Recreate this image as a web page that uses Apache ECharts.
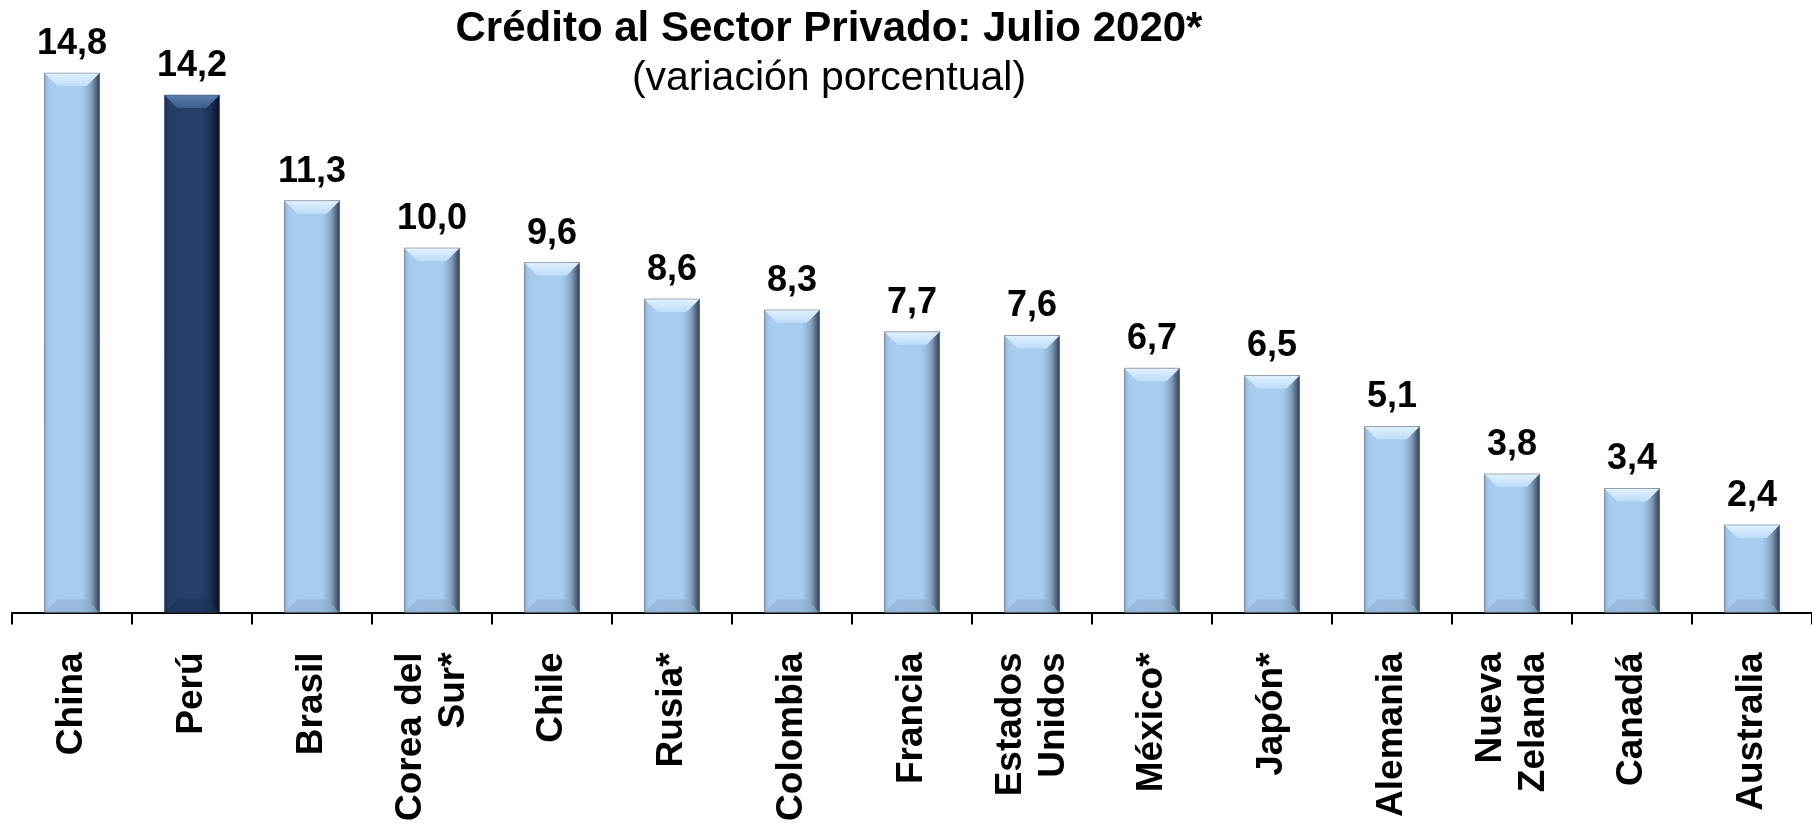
<!DOCTYPE html>
<html>
<head>
<meta charset="utf-8">
<script src="https://cdn.jsdelivr.net/npm/echarts@6/dist/echarts.min.js"></script>
<style>
  html, body { margin: 0; padding: 0; background: #ffffff; }
  #chart { width: 1812px; height: 824px; }
</style>
</head>
<body>
<div id="chart"></div>
<script>
// Private-sector credit growth by country, July 2020 (% change)
const categories = [
  'China', 'Perú', 'Brasil', 'Corea del\nSur*', 'Chile', 'Rusia*', 'Colombia',
  'Francia', 'Estados\nUnidos', 'México*', 'Japón*', 'Alemania',
  'Nueva\nZelanda', 'Canadá', 'Australia'
];
const values = [14.8, 14.2, 11.3, 10.0, 9.6, 8.6, 8.3, 7.7, 7.6, 6.7, 6.5, 5.1, 3.8, 3.4, 2.4];
const highlighted = 'Perú';
const titleText = 'Crédito al Sector Privado: Julio 2020*';
const subtitleText = '(variación porcentual)';

const FONT = '"Liberation Sans", Arial, Helvetica, sans-serif';
const BAR_RATIO = 0.46;

// Colour sets for the bevelled bars
const palettes = {
  light: {
    body: [[0, '#8aa7c5'], [0.06, '#a3c7ea'], [0.12, '#a8ccef'], [0.68, '#a8ccef'], [0.84, '#86a5c6'], [1, '#35404f']],
    topA: '#e2f2ff', topB: '#bddcf7',
    bottom: '#8fadcf'
  },
  dark: {
    body: [[0, '#1a2d4c'], [0.08, '#243f68'], [0.68, '#253f69'], [0.84, '#1b3054'], [1, '#081020']],
    topA: '#5b7db0', topB: '#3d5d8d',
    bottom: '#1c3257'
  }
};

function paletteFor(i) {
  return categories[i] === highlighted ? palettes.dark : palettes.light;
}

function bodyGradient(stops) {
  return new echarts.graphic.LinearGradient(0, 0, 1, 0,
    stops.map(s => ({ offset: s[0], color: s[1] })));
}

const barData = values.map((v, i) => ({
  value: v,
  itemStyle: { color: bodyGradient(paletteFor(i).body) }
}));

// Top and bottom bevel facets drawn over each bar
function renderBevel(params, api) {
  const i = api.value(0);
  const v = api.value(1);
  const top = api.coord([i, v]);
  const base = api.coord([i, 0]);
  const w = api.size([1, 0])[0] * BAR_RATIO;
  const x0 = top[0] - w / 2;
  const x1 = top[0] + w / 2;
  const y0 = top[1];
  const y1 = base[1];
  const b = Math.min(13, (y1 - y0) / 2);
  const pal = paletteFor(i);
  return {
    type: 'group',
    children: [
      {
        type: 'polygon',
        shape: { points: [[x0, y0], [x1, y0], [x1 - b, y0 + b], [x0 + b, y0 + b]] },
        style: {
          fill: new echarts.graphic.LinearGradient(0, 0, 0, 1, [
            { offset: 0, color: pal.topA },
            { offset: 1, color: pal.topB }
          ])
        }
      },
      {
        type: 'polygon',
        shape: { points: [[x0, y1], [x1, y1], [x1 - b, y1 - b], [x0 + b, y1 - b]] },
        style: { fill: pal.bottom, opacity: 0.6 }
      },
      {
        type: 'rect',
        shape: { x: x0, y: y0, width: w, height: y1 - y0 },
        style: { fill: 'none', stroke: 'rgba(40,55,75,0.4)', lineWidth: 1 }
      }
    ]
  };
}

const chart = echarts.init(document.getElementById('chart'), null, { renderer: 'canvas' });

chart.setOption({
  backgroundColor: '#ffffff',
  animation: false,
  title: {
    text: titleText,
    subtext: subtitleText,
    left: 829,
    top: 6,
    padding: 0,
    textAlign: 'center',
    itemGap: 4,
    textStyle: { fontFamily: FONT, fontSize: 42, fontWeight: 'bold', color: '#000000', lineHeight: 46 },
    subtextStyle: { fontFamily: FONT, fontSize: 41, fontWeight: 'normal', color: '#000000', lineHeight: 46 }
  },
  grid: { left: 12, width: 1803, top: 29.4, bottom: 209, containLabel: false },
  xAxis: {
    type: 'category',
    data: categories,
    boundaryGap: true,
    axisLine: { show: true, lineStyle: { color: '#000000', width: 2 } },
    axisTick: { show: true, length: 12, lineStyle: { color: '#000000', width: 2 } },
    axisLabel: {
      interval: 0,
      rotate: 90,
      margin: 40,
      fontFamily: FONT,
      fontSize: 37,
      fontWeight: 'bold',
      color: '#000000',
      lineHeight: 43
    }
  },
  yAxis: {
    type: 'value',
    min: 0,
    max: 16,
    show: false,
    splitLine: { show: false }
  },
  series: [
    {
      type: 'bar',
      data: barData,
      barWidth: (BAR_RATIO * 100) + '%',
      z: 2,
      label: {
        show: true,
        position: 'top',
        distance: 11,
        fontFamily: FONT,
        fontSize: 36,
        fontWeight: 'bold',
        color: '#000000',
        formatter: p => p.value.toFixed(1).replace('.', ',')
      }
    },
    {
      type: 'custom',
      silent: true,
      z: 3,
      renderItem: renderBevel,
      data: values.map((v, i) => [i, v]),
      encode: { x: 0, y: 1 }
    }
  ]
});
</script>
</body>
</html>
